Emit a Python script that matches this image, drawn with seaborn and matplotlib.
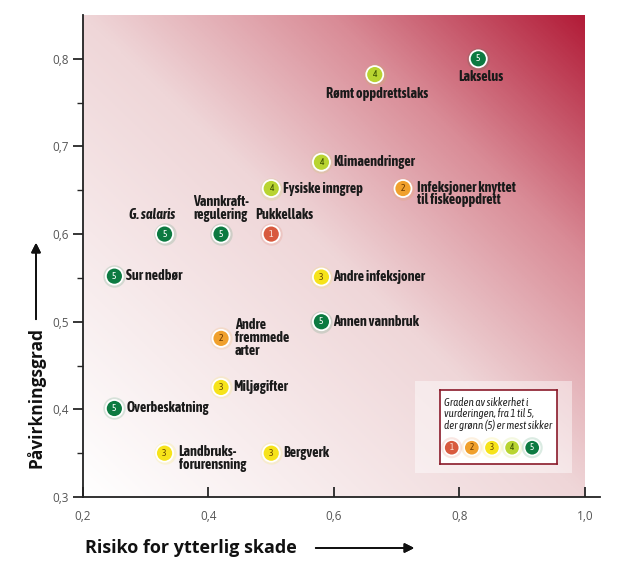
import matplotlib
matplotlib.use('Agg')

import numpy as np
import pandas as pd
import matplotlib.pyplot as plt
import seaborn as sns
from matplotlib.colors import LinearSegmentedColormap
from matplotlib.patches import Rectangle
from matplotlib.ticker import FuncFormatter, MultipleLocator, FixedLocator

sns.set_style('white')
plt.rcParams['font.family'] = ['Open Sans', 'DejaVu Sans']
NARROW = ['Asap Condensed', 'Barlow Semi Condensed', 'DejaVu Sans']

# ---- data -----------------------------------------------------------------
labels = ['Lakselus', 'Rømt oppdrettslaks', 'Klimaendringer', 'Fysiske inngrep',
          'Infeksjoner knyttet\ntil fiskeoppdrett', 'G. salaris', 'Vannkraft-\nregulering',
          'Pukkellaks', 'Sur nedbør', 'Andre infeksjoner', 'Annen vannbruk',
          'Andre\nfremmede\narter', 'Miljøgifter', 'Overbeskatning',
          'Landbruks-\nforurensning', 'Bergverk']
risiko = [0.83, 0.665, 0.58, 0.50, 0.71, 0.33, 0.42, 0.50, 0.25, 0.58, 0.58,
          0.42, 0.42, 0.25, 0.33, 0.50]
pavirkning = [0.80, 0.782, 0.682, 0.652, 0.652, 0.60, 0.60, 0.60, 0.552, 0.551,
              0.50, 0.481, 0.425, 0.401, 0.35, 0.35]
sikkerhet = [5, 4, 4, 4, 2, 5, 5, 1, 5, 3, 5, 2, 3, 5, 3, 3]

grades = [1, 2, 3, 4, 5]
grade_colors = {1: '#d85a3e', 2: '#f0a02c', 3: '#f6e31a', 4: '#b8d431', 5: '#0c7a41'}
digit_colors = {1: '#fbe3d8', 2: '#6b3a00', 3: '#6b4a00', 4: '#3c5200', 5: '#ffffff'}

df = pd.DataFrame({'label': labels, 'risiko': risiko,
                   'pavirkning': pavirkning, 'grad': sikkerhet})

# label placement: (dx px, dy px, ha, va)
placement = {
    'Lakselus': (3, -11, 'center', 'top'),
    'Rømt oppdrettslaks': (2, -12, 'center', 'top'),
    'Infeksjoner knyttet\ntil fiskeoppdrett': (14, 8, 'left', 'top'),
    'G. salaris': (-12, 12, 'center', 'bottom'),
    'Vannkraft-\nregulering': (0, 12, 'center', 'bottom'),
    'Pukkellaks': (13, 12, 'center', 'bottom'),
    'Andre\nfremmede\narter': (14, 0, 'left', 'center'),
    'Landbruks-\nforurensning': (14, 8, 'left', 'top'),
}

# ---- figure ---------------------------------------------------------------
fig = plt.figure(figsize=(6.3, 5.68), dpi=100)
ax = fig.add_axes([83 / 630, 1 - 497 / 568, 517 / 630, 482 / 568])
ax.set_xlim(0.2, 1.024)
ax.set_ylim(0.3, 0.85)

# diagonal background gradient
cmap = LinearSegmentedColormap.from_list(
    'bg', [(0, '#ffffff'), (0.5, '#efd6d8'), (0.75, '#d98b96'), (1.0, '#b21c38')])
u, v = np.meshgrid(np.linspace(0, 1, 300), np.linspace(0, 1, 300))
ax.imshow((u + v) / 2, extent=(0.2, 1.0, 0.3, 0.85), origin='lower',
          cmap=cmap, vmin=0, vmax=1, aspect='auto', zorder=0)

# glow + markers
for g in grades:
    sub = df[df['grad'] == g]
    ax.scatter(sub['risiko'], sub['pavirkning'], s=260, color=grade_colors[g],
               alpha=0.15, linewidths=0, zorder=2)
sns.scatterplot(data=df, x='risiko', y='pavirkning', hue='grad', palette=grade_colors,
                s=150, edgecolor='white', linewidth=1.3, legend=False, zorder=3, ax=ax)

for lab, x, y, g in zip(labels, risiko, pavirkning, sikkerhet):
    ax.text(x, y, str(g), ha='center', va='center', fontsize=7, family=NARROW,
            color=digit_colors[g], zorder=4)
    dx, dy, ha, va = placement.get(lab, (12, 0, 'left', 'center'))
    ax.annotate(lab, (x, y), xytext=(dx, dy), textcoords='offset pixels',
                ha=ha, va=va, family=NARROW, fontsize=10.2, fontweight='bold',
                fontstyle='italic' if lab == 'G. salaris' else 'normal',
                color='#1a1a1a', linespacing=0.9, zorder=5)

# axes styling
for side in ['top', 'right']:
    ax.spines[side].set_visible(False)
for side in ['left', 'bottom']:
    ax.spines[side].set_color('#222222')
    ax.spines[side].set_linewidth(1.3)
ax.xaxis.set_major_locator(MultipleLocator(0.2))
ax.yaxis.set_major_locator(FixedLocator([0.3, 0.4, 0.5, 0.6, 0.7, 0.8]))
ax.yaxis.set_minor_locator(FixedLocator([0.35, 0.45, 0.55, 0.65, 0.75]))
fmt = FuncFormatter(lambda val, pos: f'{val:.1f}'.replace('.', ','))
ax.xaxis.set_major_formatter(fmt)
ax.yaxis.set_major_formatter(fmt)
ax.tick_params(axis='x', direction='in', length=7, width=1.3, labelsize=8.5,
               labelcolor='#555555', bottom=True, pad=9)
ax.tick_params(axis='y', which='major', direction='out', length=7, width=1.3,
               labelsize=8.5, labelcolor='#555555', left=True)
ax.tick_params(axis='y', which='minor', direction='out', length=4, width=1.0, left=True)
ax.set_xlabel('')
ax.set_ylabel('')

# axis titles with arrows
fig.text(85 / 630, 1 - 548 / 568, 'Risiko for ytterlig skade', ha='left', va='center',
         fontsize=13, fontweight='bold', color='#111111')
fig.text(36 / 630, 1 - 397 / 568, 'Påvirkningsgrad', ha='center', va='center',
         rotation=90, fontsize=12.5, fontweight='bold', color='#111111')
fig.add_artist(plt.annotate('', xy=(417 / 630, 1 - 548 / 568), xytext=(313 / 630, 1 - 548 / 568),
               xycoords='figure fraction',
               arrowprops=dict(arrowstyle='-|>', color='#111111', lw=1.3, mutation_scale=14)))
fig.add_artist(plt.annotate('', xy=(36 / 630, 1 - 240 / 568), xytext=(36 / 630, 1 - 322 / 568),
               xycoords='figure fraction',
               arrowprops=dict(arrowstyle='-|>', color='#111111', lw=1.3, mutation_scale=14)))

# legend box
fig.add_artist(Rectangle((415 / 630, 1 - 473 / 568), 157 / 630, 92 / 568,
                         transform=fig.transFigure, facecolor='white', alpha=0.45,
                         edgecolor='none', zorder=5))
leg = fig.add_axes([440 / 630, 1 - 464 / 568, 117 / 630, 74 / 568], zorder=6)
leg.set_xlim(0, 1)
leg.set_ylim(0, 1)
leg.set_xticks([])
leg.set_yticks([])
for s in leg.spines.values():
    s.set_color('#8a1a2a')
    s.set_linewidth(1.2)
leg.text(0.035, 0.9, 'Graden av sikkerhet i\nvurderingen, fra 1 til 5,\nder grønn (5) er mest sikker',
         ha='left', va='top', family=NARROW, fontsize=7.9, fontstyle='italic',
         color='#222222', linespacing=1.0)
leg_x = [0.1 + 0.172 * i for i in range(len(grades))]
leg_df = pd.DataFrame({'x': leg_x, 'y': [0.22] * len(grades), 'grad': grades})
leg.scatter(leg_x, [0.22] * len(grades), s=230, c=[grade_colors[g] for g in grades],
            alpha=0.15, linewidths=0)
sns.scatterplot(data=leg_df, x='x', y='y', hue='grad', palette=grade_colors, s=120,
                edgecolor='white', linewidth=1.1, legend=False, ax=leg)
for x, g in zip(leg_x, grades):
    leg.text(x, 0.22, str(g), ha='center', va='center', fontsize=6.5, family=NARROW,
             color=digit_colors[g])
leg.set_xlabel('')
leg.set_ylabel('')

fig.savefig('out.png', dpi=100)
